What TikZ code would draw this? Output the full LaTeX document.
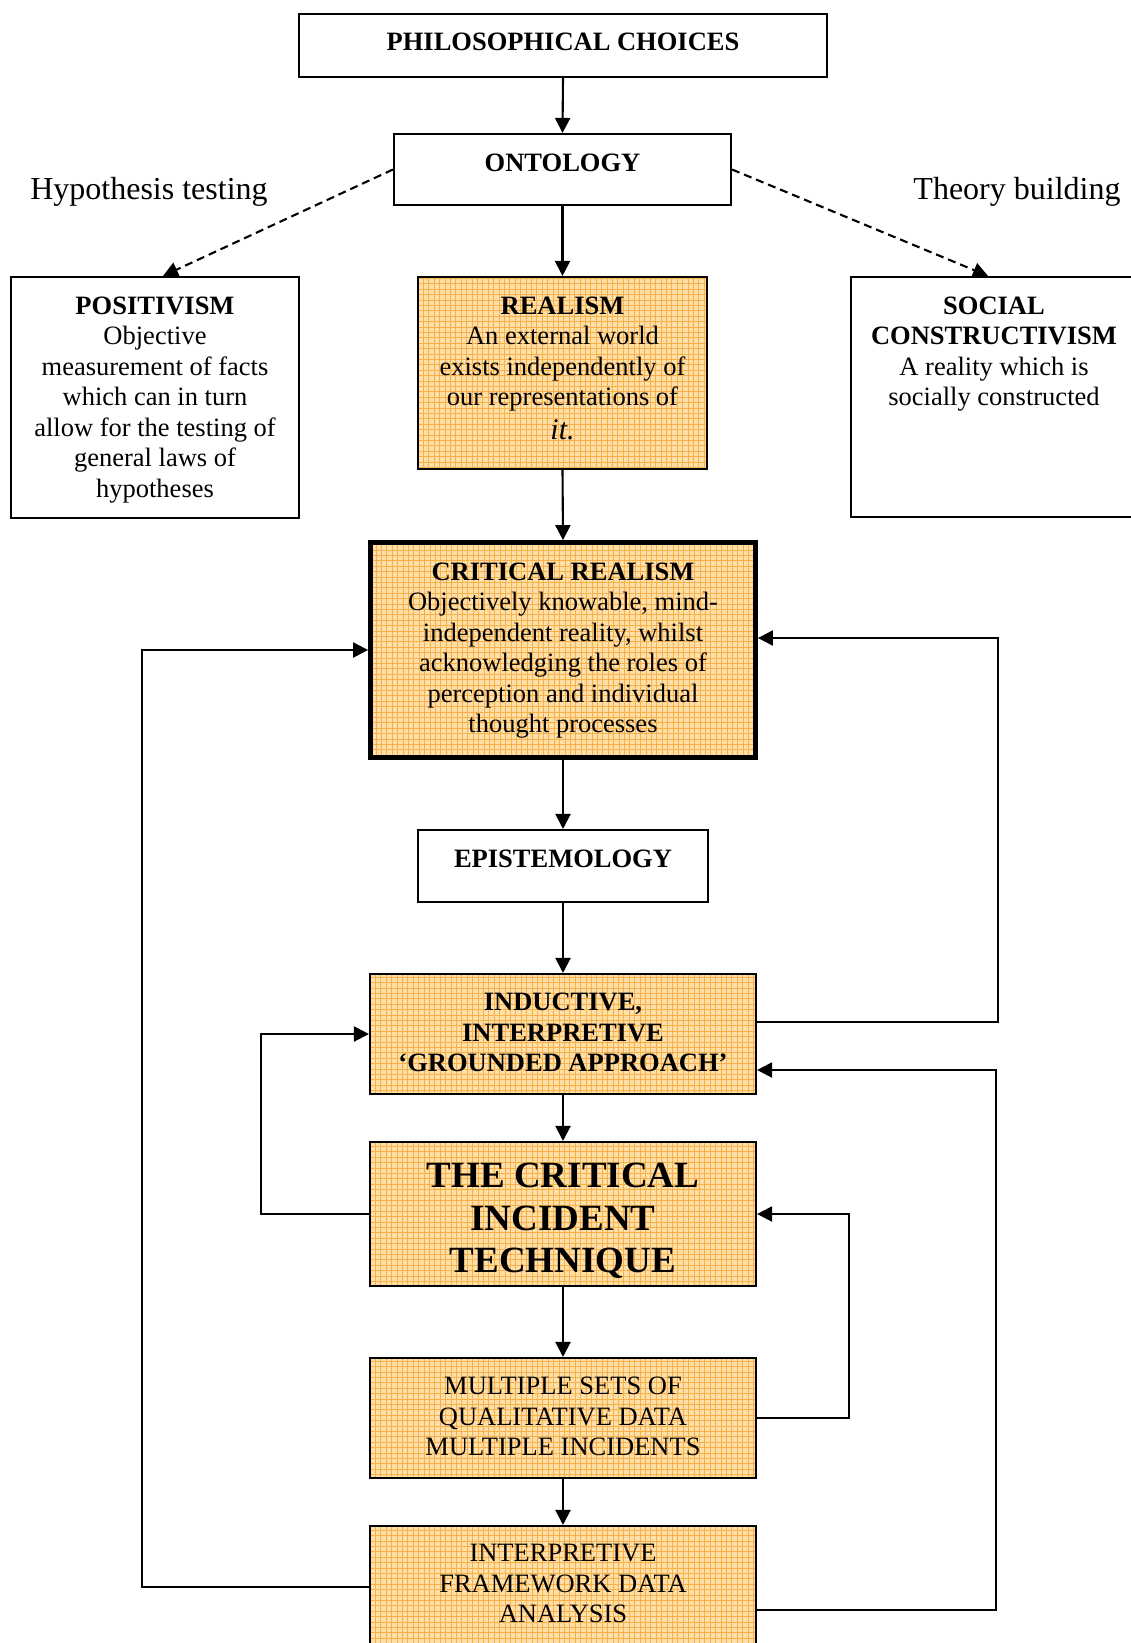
\documentclass[tikz,border=0pt]{standalone}
\usepackage{fontspec}
\setmainfont{Liberation Serif}
\usetikzlibrary{arrows.meta}

\definecolor{warmbase}{HTML}{FEDFA8}
\definecolor{warmgrid}{HTML}{F8B04A}

% fixed-size box text: width, height, top gap, content
\newcommand{\boxtxt}[4]{\parbox[c][#2][t]{#1}{\centering\vspace*{#3}#4\par}}
\newcommand{\bodysize}{\fontsize{26.5pt}{30.5pt}\selectfont}
\newcommand{\bigsize}{\fontsize{37pt}{42.5pt}\selectfont}
\newcommand{\sidesize}{\fontsize{32pt}{36pt}\selectfont}

\tikzset{
  frame/.style={draw=black, line width=2.1pt, inner sep=0pt, fill=white},
  warm/.style={fill=warmbase,
    path picture={\draw[warmgrid, line width=0.8pt]
      (path picture bounding box.south west) grid[step=5.4pt]
      (path picture bounding box.north east);}},
  heavy/.style={line width=4.8pt},
  link/.style={line width=2.1pt, -{Triangle[length=15pt,width=15pt]}},
  dashlink/.style={link, dash pattern=on 8pt off 5pt},
}

\begin{document}
\begin{tikzpicture}[x=1pt,y=-1pt]
\useasboundingbox (0,0) rectangle (1131,1643);
\fill[white] (0,0) rectangle (1131,1643);
\begin{scope}
\clip (0,0) rectangle (1131,1643);

% ---- top chain ----
\node[frame] (pc) at (563,45.5)
  {\boxtxt{528pt}{63pt}{18.5pt}{\bodysize\bfseries PHILOSOPHICAL CHOICES}};
\node[frame] (ont) at (562.5,169.5)
  {\boxtxt{337pt}{71pt}{19.5pt}{\bodysize\bfseries ONTOLOGY}};

\node (hyp) at (149,192) {\sidesize Hypothesis testing};
\node (thb) at (1017,192) {\sidesize Theory building};

% ---- three ontological positions ----
\node[frame] (pos) at (155,397.5)
  {\boxtxt{288pt}{241pt}{19.5pt}{\bodysize {\bfseries POSITIVISM}\\
   Objective\\ measurement of facts\\ which can in turn\\
   allow for the testing of\\ general laws of\\ hypotheses}};
\node[frame, warm] (real) at (562.5,373)
  {\boxtxt{289pt}{192pt}{19.5pt}{\bodysize {\bfseries REALISM}\\
   An external world\\ exists independently of\\ our representations of\\[3.5pt]
   {\fontsize{30pt}{34pt}\selectfont\itshape it.}}};
\node[frame] (soc) at (994,397)
  {\boxtxt{286pt}{240pt}{19.5pt}{\bodysize {\bfseries SOCIAL\\ CONSTRUCTIVISM}\\
   A reality which is\\ socially constructed}};

% ---- critical realism and below ----
\node[frame, warm, heavy] (cr) at (563,650)
  {\boxtxt{385pt}{215pt}{20pt}{\bodysize {\bfseries CRITICAL REALISM}\\
   Objectively knowable, mind-\\ independent reality, whilst\\
   acknowledging the roles of\\ perception and individual\\ thought processes}};
\node[frame] (epi) at (563,866)
  {\boxtxt{289.5pt}{72pt}{19.7pt}{\bodysize\bfseries EPISTEMOLOGY}};
\node[frame, warm] (ind) at (563,1034)
  {\boxtxt{386pt}{120pt}{19.3pt}{\bodysize\bfseries INDUCTIVE,\\ INTERPRETIVE\\ ‘GROUNDED APPROACH’}};
\node[frame, warm] (cit) at (563,1214)
  {\boxtxt{386pt}{144pt}{21pt}{\bigsize\bfseries THE CRITICAL\\ INCIDENT\\ TECHNIQUE}};
\node[frame, warm] (mul) at (563,1418)
  {\boxtxt{386pt}{120pt}{19.3pt}{\bodysize MULTIPLE SETS OF\\ QUALITATIVE DATA\\ MULTIPLE INCIDENTS}};
\node[frame, warm] (itp) at (563,1587)
  {\boxtxt{386pt}{122pt}{18.5pt}{\bodysize INTERPRETIVE\\ FRAMEWORK DATA\\ ANALYSIS}};

% ---- main vertical flow ----
\draw[link] (pc.south) -- (ont.north);
\draw[link] (ont.south) -- (real.north);
\draw[link] (real.south) -- (cr.north);
\draw[link] (cr.south) -- (epi.north);
\draw[link] (epi.south) -- (ind.north);
\draw[link] (ind.south) -- (cit.north);
\draw[link] (cit.south) -- (mul.north);
\draw[link] (mul.south) -- (itp.north);

% ---- dashed branches ----
\draw[dashlink] (ont.west) -- ([xshift=8pt]pos.north);
\draw[dashlink] (ont.east) -- ([xshift=-6pt]soc.north);

% ---- feedback loops ----
\draw[link] ([yshift=12pt]ind.east) -- ++(241,0) |- ([yshift=12pt]cr.east);
\draw[link] ([yshift=-23pt]itp.east) -- ++(239,0) |- ([yshift=-36pt]ind.east);
\draw[link] (mul.east) -- ++(92,0) |- (cit.east);
\draw[link] (itp.west) -- ++(-227,0) |- (cr.west);
\draw[link] (cit.west) -- ++(-108,0) |- (ind.west);
\end{scope}
\end{tikzpicture}
\end{document}
